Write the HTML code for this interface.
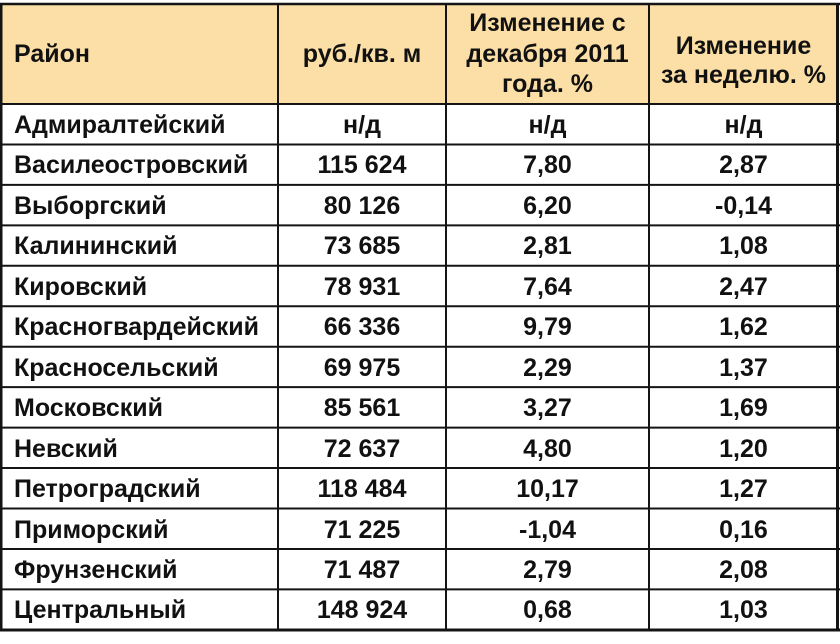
<!DOCTYPE html>
<html>
<head>
<meta charset="utf-8">
<style>
html,body{margin:0;padding:0;background:#fff;}
body{width:840px;height:644px;position:relative;overflow:hidden;font-family:"Liberation Sans","Noto Sans CJK SC",sans-serif;font-weight:bold;font-size:25px;color:#111;}
.hdr{position:absolute;left:2px;top:4px;width:835px;height:100px;background:#FCDFA6;}
.t{position:absolute;white-space:nowrap;}
.c{text-align:center;}
svg{position:absolute;left:0;top:0;}
</style>
</head>
<body>
<div class="hdr"></div>

<div class="t" style="left:14px;top:39px;line-height:30px;">Район</div>
<div class="t c" style="left:278px;width:168px;top:39px;line-height:30px;">руб./кв. м</div>
<div class="t c" style="left:446px;width:203px;top:8px;line-height:30.5px;">Изменение с<br>декабря 2011<br>года. %</div>
<div class="t c" style="left:649px;width:189px;top:31.5px;line-height:29.5px;">Изменение<br>за неделю. %</div>

<div class="t" style="left:14px;top:105px;line-height:40.45px;">Адмиралтейский<br>Василеостровский<br>Выборгский<br>Калининский<br>Кировский<br>Красногвардейский<br>Красносельский<br>Московский<br>Невский<br>Петроградский<br>Приморский<br>Фрунзенский<br>Центральный</div>
<div class="t c" style="left:278px;width:168px;top:105px;line-height:40.45px;">н/д<br>115 624<br>80 126<br>73 685<br>78 931<br>66 336<br>69 975<br>85 561<br>72 637<br>118 484<br>71 225<br>71 487<br>148 924</div>
<div class="t c" style="left:446px;width:203px;top:105px;line-height:40.45px;">н/д<br>7,80<br>6,20<br>2,81<br>7,64<br>9,79<br>2,29<br>3,27<br>4,80<br>10,17<br>-1,04<br>2,79<br>0,68</div>
<div class="t c" style="left:649px;width:189px;top:105px;line-height:40.45px;">н/д<br>2,87<br>-0,14<br>1,08<br>2,47<br>1,62<br>1,37<br>1,69<br>1,20<br>1,27<br>0,16<br>2,08<br>1,03</div>

<svg width="840" height="644" viewBox="0 0 840 644">
<g stroke="#141414" fill="none">
<line x1="0" y1="4" x2="840" y2="4" stroke-width="2.5"/>
<line x1="0" y1="104" x2="840" y2="104" stroke-width="2"/>
<line x1="0" y1="144.45" x2="840" y2="144.45" stroke-width="2"/>
<line x1="0" y1="184.9" x2="840" y2="184.9" stroke-width="2"/>
<line x1="0" y1="225.35" x2="840" y2="225.35" stroke-width="2"/>
<line x1="0" y1="265.8" x2="840" y2="265.8" stroke-width="2"/>
<line x1="0" y1="306.25" x2="840" y2="306.25" stroke-width="2"/>
<line x1="0" y1="346.7" x2="840" y2="346.7" stroke-width="2"/>
<line x1="0" y1="387.15" x2="840" y2="387.15" stroke-width="2"/>
<line x1="0" y1="427.6" x2="840" y2="427.6" stroke-width="2"/>
<line x1="0" y1="468.05" x2="840" y2="468.05" stroke-width="2"/>
<line x1="0" y1="508.5" x2="840" y2="508.5" stroke-width="2"/>
<line x1="0" y1="548.95" x2="840" y2="548.95" stroke-width="2"/>
<line x1="0" y1="589.4" x2="840" y2="589.4" stroke-width="2"/>
<line x1="0" y1="630" x2="840" y2="630" stroke-width="3"/>
<line x1="1.25" y1="3" x2="1.25" y2="631.5" stroke-width="2.5"/>
<line x1="278" y1="3" x2="278" y2="631.5" stroke-width="2"/>
<line x1="446" y1="3" x2="446" y2="631.5" stroke-width="2"/>
<line x1="649" y1="3" x2="649" y2="631.5" stroke-width="2"/>
<line x1="837.5" y1="3" x2="837.5" y2="631.5" stroke-width="3"/>
</g>
</svg>
</body>
</html>
